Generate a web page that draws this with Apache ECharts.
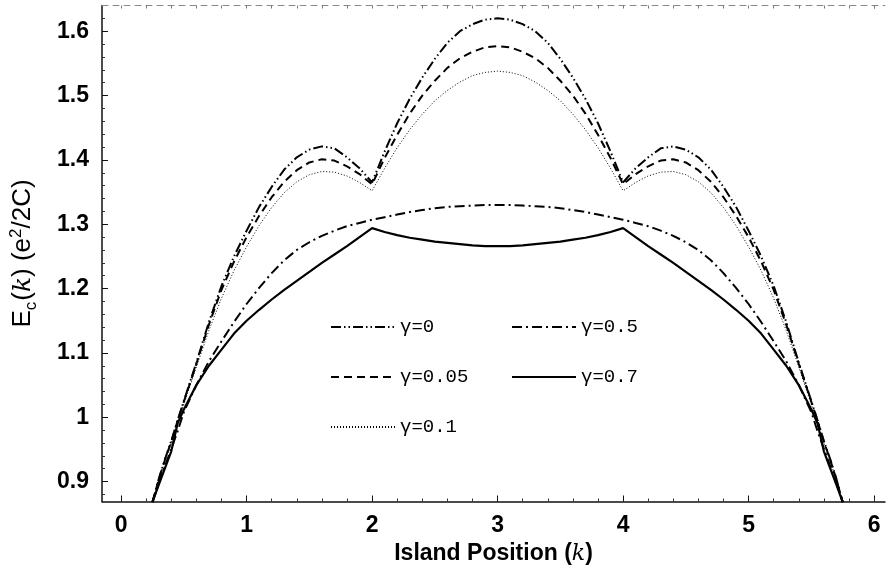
<!DOCTYPE html>
<html>
<head>
<meta charset="utf-8">
<script src="https://cdn.jsdelivr.net/npm/echarts@6/dist/echarts.min.js"></script>
<style>
html,body{margin:0;padding:0;background:#fff;}
#chart{width:888px;height:572px;}
</style>
</head>
<body>
<div id="chart"></div>
<script>
// Island positions k
const xs = [0.25,0.3,0.35,0.4,0.45,0.5,0.6,0.7,0.8,0.9,1.0,1.1,1.2,1.3,1.4,1.5,1.6,1.7,1.8,1.9,2.0,2.1,2.2,2.3,2.4,2.5,2.6,2.7,2.8,2.9,
  3.0,
  3.1,3.2,3.3,3.4,3.5,3.6,3.7,3.8,3.9,4.0,4.1,4.2,4.3,4.4,4.5,4.6,4.7,4.8,4.9,5.0,5.1,5.2,5.3,5.4,5.5,5.55,5.6,5.65,5.7,5.75];

const g0 = [0.868,0.904,0.935,0.963,0.995,1.025,1.085,1.148,1.204,1.25,1.29,1.327,1.358,1.385,1.404,1.416,1.421,1.418,1.404,1.387,1.365,1.413,1.457,1.495,1.528,1.557,1.582,1.6,1.611,1.618,
  1.62,
  1.618,1.611,1.6,1.582,1.557,1.528,1.495,1.457,1.413,1.365,1.387,1.404,1.418,1.421,1.416,1.404,1.385,1.358,1.327,1.29,1.25,1.204,1.148,1.085,1.025,0.995,0.963,0.935,0.904,0.868];

const g005 = [0.868,0.903,0.934,0.962,0.994,1.024,1.083,1.144,1.198,1.242,1.28,1.313,1.342,1.366,1.384,1.396,1.401,1.399,1.39,1.378,1.362,1.403,1.439,1.472,1.5,1.523,1.543,1.558,1.568,1.575,
  1.577,
  1.575,1.568,1.558,1.543,1.523,1.5,1.472,1.439,1.403,1.362,1.378,1.39,1.399,1.401,1.396,1.384,1.366,1.342,1.313,1.28,1.242,1.198,1.144,1.083,1.024,0.994,0.962,0.934,0.903,0.868];

const g01 = [0.868,0.902,0.932,0.96,0.991,1.02,1.078,1.135,1.185,1.228,1.265,1.298,1.326,1.349,1.366,1.377,1.382,1.381,1.375,1.365,1.352,1.387,1.419,1.447,1.471,1.492,1.508,1.521,1.531,1.536,
  1.538,
  1.536,1.531,1.521,1.508,1.492,1.471,1.447,1.419,1.387,1.352,1.365,1.375,1.381,1.382,1.377,1.366,1.349,1.326,1.298,1.265,1.228,1.185,1.135,1.078,1.02,0.991,0.96,0.932,0.902,0.868];

const g05 = [0.868,0.897,0.924,0.951,0.978,1.008,1.05,1.087,1.118,1.148,1.176,1.201,1.224,1.244,1.26,1.272,1.282,1.29,1.297,1.302,1.307,1.311,1.315,1.319,1.322,1.325,1.327,1.328,1.329,1.33,
  1.33,
  1.33,1.329,1.328,1.327,1.325,1.322,1.319,1.315,1.311,1.307,1.302,1.297,1.29,1.282,1.272,1.26,1.244,1.224,1.201,1.176,1.148,1.118,1.087,1.05,1.008,0.978,0.951,0.924,0.897,0.868];

const g07 = [0.868,0.895,0.921,0.947,0.99,1.012,1.05,1.08,1.105,1.13,1.15,1.167,1.183,1.198,1.212,1.226,1.24,1.253,1.266,1.28,1.294,1.288,1.283,1.279,1.276,1.273,1.271,1.269,1.267,1.266,
  1.266,
  1.266,1.267,1.269,1.271,1.273,1.276,1.279,1.283,1.288,1.294,1.28,1.266,1.253,1.24,1.226,1.212,1.198,1.183,1.167,1.15,1.13,1.105,1.08,1.05,1.012,0.99,0.947,0.921,0.895,0.868];

const xTicks = [0,1,2,3,4,5,6];
const yTicks = [0.9,1.0,1.1,1.2,1.3,1.4,1.5,1.6];
const xMinor = [0.2,0.4,0.6,0.8,1.2,1.4,1.6,1.8,2.2,2.4,2.6,2.8,3.2,3.4,3.6,3.8,4.2,4.4,4.6,4.8,5.2,5.4,5.6,5.8,6.0];
const yMinor = [0.88,0.92,0.94,0.96,0.98,1.02,1.04,1.06,1.08,1.12,1.14,1.16,1.18,1.22,1.24,1.26,1.28,1.32,1.34,1.36,1.38,1.42,1.44,1.46,1.48,1.52,1.54,1.56,1.58,1.62];
const names = ['γ=0','γ=0.05','γ=0.1','γ=0.5','γ=0.7'];

const XMIN = -0.152, XMAX = 6.087, YMIN = 0.869, YMAX = 1.640;
const zip = ys => xs.map((x,i)=>[x, ys[i]]);

const chart = echarts.init(document.getElementById('chart'), null, {renderer:'canvas'});
const tickFont = {fontFamily:'Liberation Sans, Arial, sans-serif', fontSize:23, fontWeight:'bold', color:'#000'};
const legendCommon = {
  orient:'vertical', top:317, padding:0,
  itemWidth:64, itemHeight:14, itemGap:30,
  itemStyle:{color:'rgba(0,0,0,0)', borderWidth:0, borderColor:'rgba(0,0,0,0)'},
  textStyle:{fontFamily:'Liberation Mono, DejaVu Sans Mono, monospace', fontSize:19, color:'#000', lineHeight:20},
  selectedMode:false
};

const option = {
  animation:false,
  backgroundColor:'#fff',
  color:['#000','#000','#000','#000','#000'],
  grid:{left:97, right:3, top:5.5, bottom:70.5, containLabel:false},
  xAxis:[
    {type:'value', min:XMIN, max:XMAX, position:'bottom',
     axisLine:{show:true, onZero:false, lineStyle:{color:'#111', width:1.5}},
     axisTick:{show:true, inside:true, length:6, customValues:xTicks, lineStyle:{color:'#111', width:1}},
     axisLabel:{show:true, customValues:xTicks, margin:13, ...tickFont, formatter:v=>String(v)},
     splitLine:{show:false},
     name:'Island Position ({i|k})', nameLocation:'middle', nameGap:36,
     nameTextStyle:{...tickFont, fontSize:23,
       rich:{i:{fontFamily:'DejaVu Serif, serif', fontStyle:'italic', fontSize:22, fontWeight:'normal', color:'#000'}}}
    },
    {type:'value', min:XMIN, max:XMAX, position:'bottom',
     axisLine:{show:false, onZero:false},
     axisTick:{show:true, inside:true, length:3, customValues:xMinor, lineStyle:{color:'#333', width:1}},
     axisLabel:{show:false}, splitLine:{show:false}
    },
    {type:'value', min:XMIN, max:XMAX, position:'top',
     axisLine:{show:true, onZero:false, lineStyle:{color:'#888', width:1, type:[6,5]}},
     axisTick:{show:true, inside:true, length:3, customValues:xTicks.concat(xMinor), lineStyle:{color:'#777', width:1}},
     axisLabel:{show:false}, splitLine:{show:false}
    }
  ],
  yAxis:[
    {type:'value', min:YMIN, max:YMAX, position:'left',
     axisLine:{show:true, onZero:false, lineStyle:{color:'#111', width:1.5}},
     axisTick:{show:true, inside:true, length:6, customValues:yTicks, lineStyle:{color:'#111', width:1}},
     axisLabel:{show:true, customValues:yTicks, margin:13, ...tickFont, formatter:v=>String(+(+v).toFixed(1))},
     splitLine:{show:false},
     name:'{n|E}{s|c}{n|(}{i|k}{n|) (e}{p|2}{n|/2C)}', nameLocation:'middle', nameGap:64, nameRotate:90,
     nameTextStyle:{
       rich:{
         n:{fontFamily:'Liberation Sans, Arial, sans-serif', fontSize:26, color:'#000', lineHeight:30},
         s:{fontFamily:'Liberation Sans, Arial, sans-serif', fontSize:17, color:'#000', verticalAlign:'bottom', lineHeight:30, padding:[0,1,-2,0]},
         p:{fontFamily:'Liberation Sans, Arial, sans-serif', fontSize:17, color:'#000', verticalAlign:'top', lineHeight:30},
         i:{fontFamily:'DejaVu Serif, serif', fontStyle:'italic', fontSize:25, color:'#000', lineHeight:30}
       }
     }
    },
    {type:'value', min:YMIN, max:YMAX, position:'left',
     axisLine:{show:false, onZero:false},
     axisTick:{show:true, inside:true, length:3, customValues:yMinor, lineStyle:{color:'#333', width:1}},
     axisLabel:{show:false}, splitLine:{show:false}
    }
  ],
  legend:[
    Object.assign({data:[names[0], names[1], names[2]], left:330}, legendCommon),
    Object.assign({data:[names[3], names[4]], left:511}, legendCommon)
  ],
  series:[
    {name:names[0], type:'line', data:zip(g0), symbol:'none', smooth:false, clip:true,
     itemStyle:{color:'#000'}, lineStyle:{color:'#000', width:2, type:[10,3,1.5,3,1.5,3]}},
    {name:names[1], type:'line', data:zip(g005), symbol:'none', smooth:false, clip:true,
     itemStyle:{color:'#000'}, lineStyle:{color:'#000', width:2, type:[8,5]}},
    {name:names[2], type:'line', data:zip(g01), symbol:'none', smooth:false, clip:true,
     itemStyle:{color:'#000'}, lineStyle:{color:'#000', width:1, type:[1,2]}},
    {name:names[3], type:'line', data:zip(g05), symbol:'none', smooth:false, clip:true,
     itemStyle:{color:'#000'}, lineStyle:{color:'#000', width:2, type:[10,4,2,4]}},
    {name:names[4], type:'line', data:zip(g07), symbol:'none', smooth:false, clip:true,
     itemStyle:{color:'#000'}, lineStyle:{color:'#000', width:2.2, type:'solid'}}
  ]
};
chart.setOption(option);
</script>
</body>
</html>
